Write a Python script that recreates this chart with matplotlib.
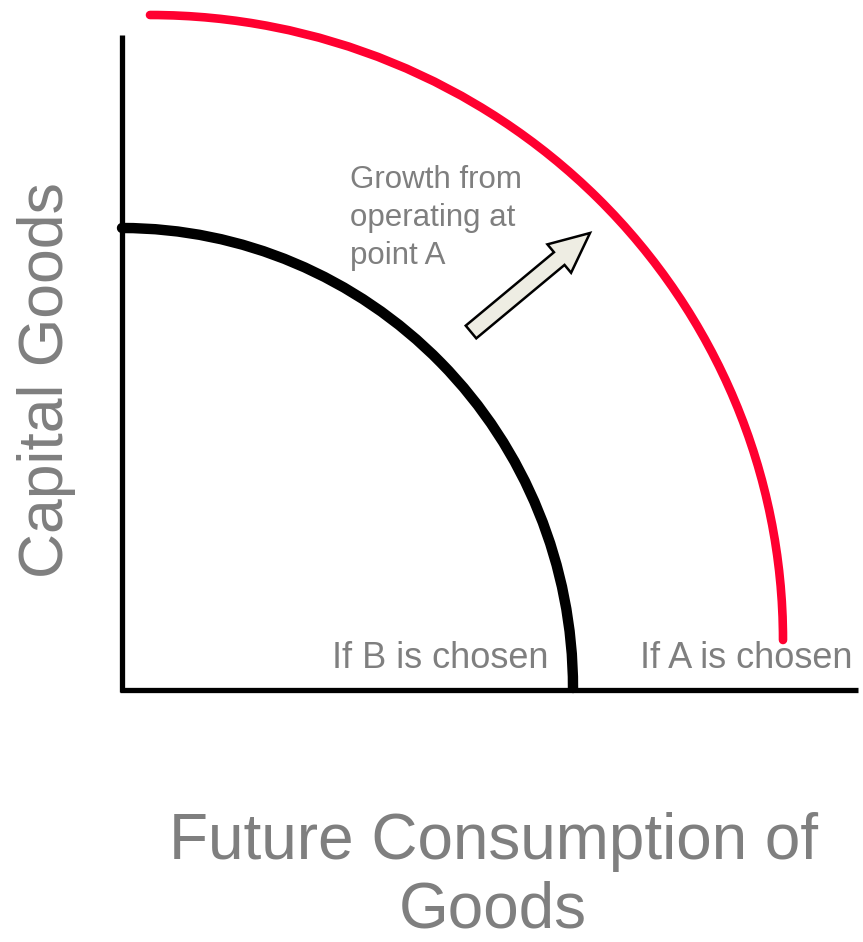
import matplotlib.pyplot as plt
from matplotlib.patches import Arc, FancyArrow

# Diagram drawn in pixel-like units (x right, y down)
axis_x = 122
axis_y = 690
axis_top = 35
axis_right = 858

# PPF curves: centre, radii
inner_center = (122, 688)
inner_radii = (451, 460)
outer_center = (150, 640)
outer_radii = (633, 625)

# growth arrow: tail -> tip
arrow_tail = (471, 332)
arrow_tip = (590, 233)

gray = "#7f7f7f"
red = "#ff0030"

plt.rcParams["font.family"] = ["Liberation Sans", "DejaVu Sans"]

fig = plt.figure(figsize=(8.63, 9.42), dpi=100)
ax = fig.add_axes([0, 0, 1, 1])
ax.set_xlim(0, 863)
ax.set_ylim(942, 0)
ax.axis("off")

# axes
ax.plot([axis_x, axis_x], [axis_top, axis_y + 2], color="black", lw=3.8, solid_capstyle="butt")
ax.plot([axis_x - 2, axis_right], [axis_y, axis_y], color="black", lw=3.8, solid_capstyle="butt")

# curves
inner = Arc(inner_center, 2 * inner_radii[0], 2 * inner_radii[1], theta1=270, theta2=360,
            color="black", lw=7.5, capstyle="round")
outer = Arc(outer_center, 2 * outer_radii[0], 2 * outer_radii[1], theta1=270, theta2=360,
            color=red, lw=6.2, capstyle="round")
ax.add_patch(inner)
ax.add_patch(outer)

# arrow
ax.add_patch(FancyArrow(arrow_tail[0], arrow_tail[1],
                        arrow_tip[0] - arrow_tail[0], arrow_tip[1] - arrow_tail[1],
                        width=16.5, head_width=37, head_length=40,
                        length_includes_head=True,
                        facecolor="#eeede3", edgecolor="black", lw=1.8))

# labels
ax.text(350, 218, "Growth from\noperating at\npoint A", color=gray, fontsize=22.5,
        ha="left", va="center", linespacing=1.33)
ax.text(440, 658, "If B is chosen", color=gray, fontsize=26, ha="center", va="center")
ax.text(746, 658, "If A is chosen", color=gray, fontsize=26, ha="center", va="center")
ax.text(47, 380, "Capital Goods", color=gray, fontsize=45, rotation=90,
        ha="center", va="center")
ax.text(493, 876, "Future Consumption of\nGoods", color=gray, fontsize=46,
        ha="center", va="center", linespacing=1.18)

fig.savefig("out.png", dpi=100)
